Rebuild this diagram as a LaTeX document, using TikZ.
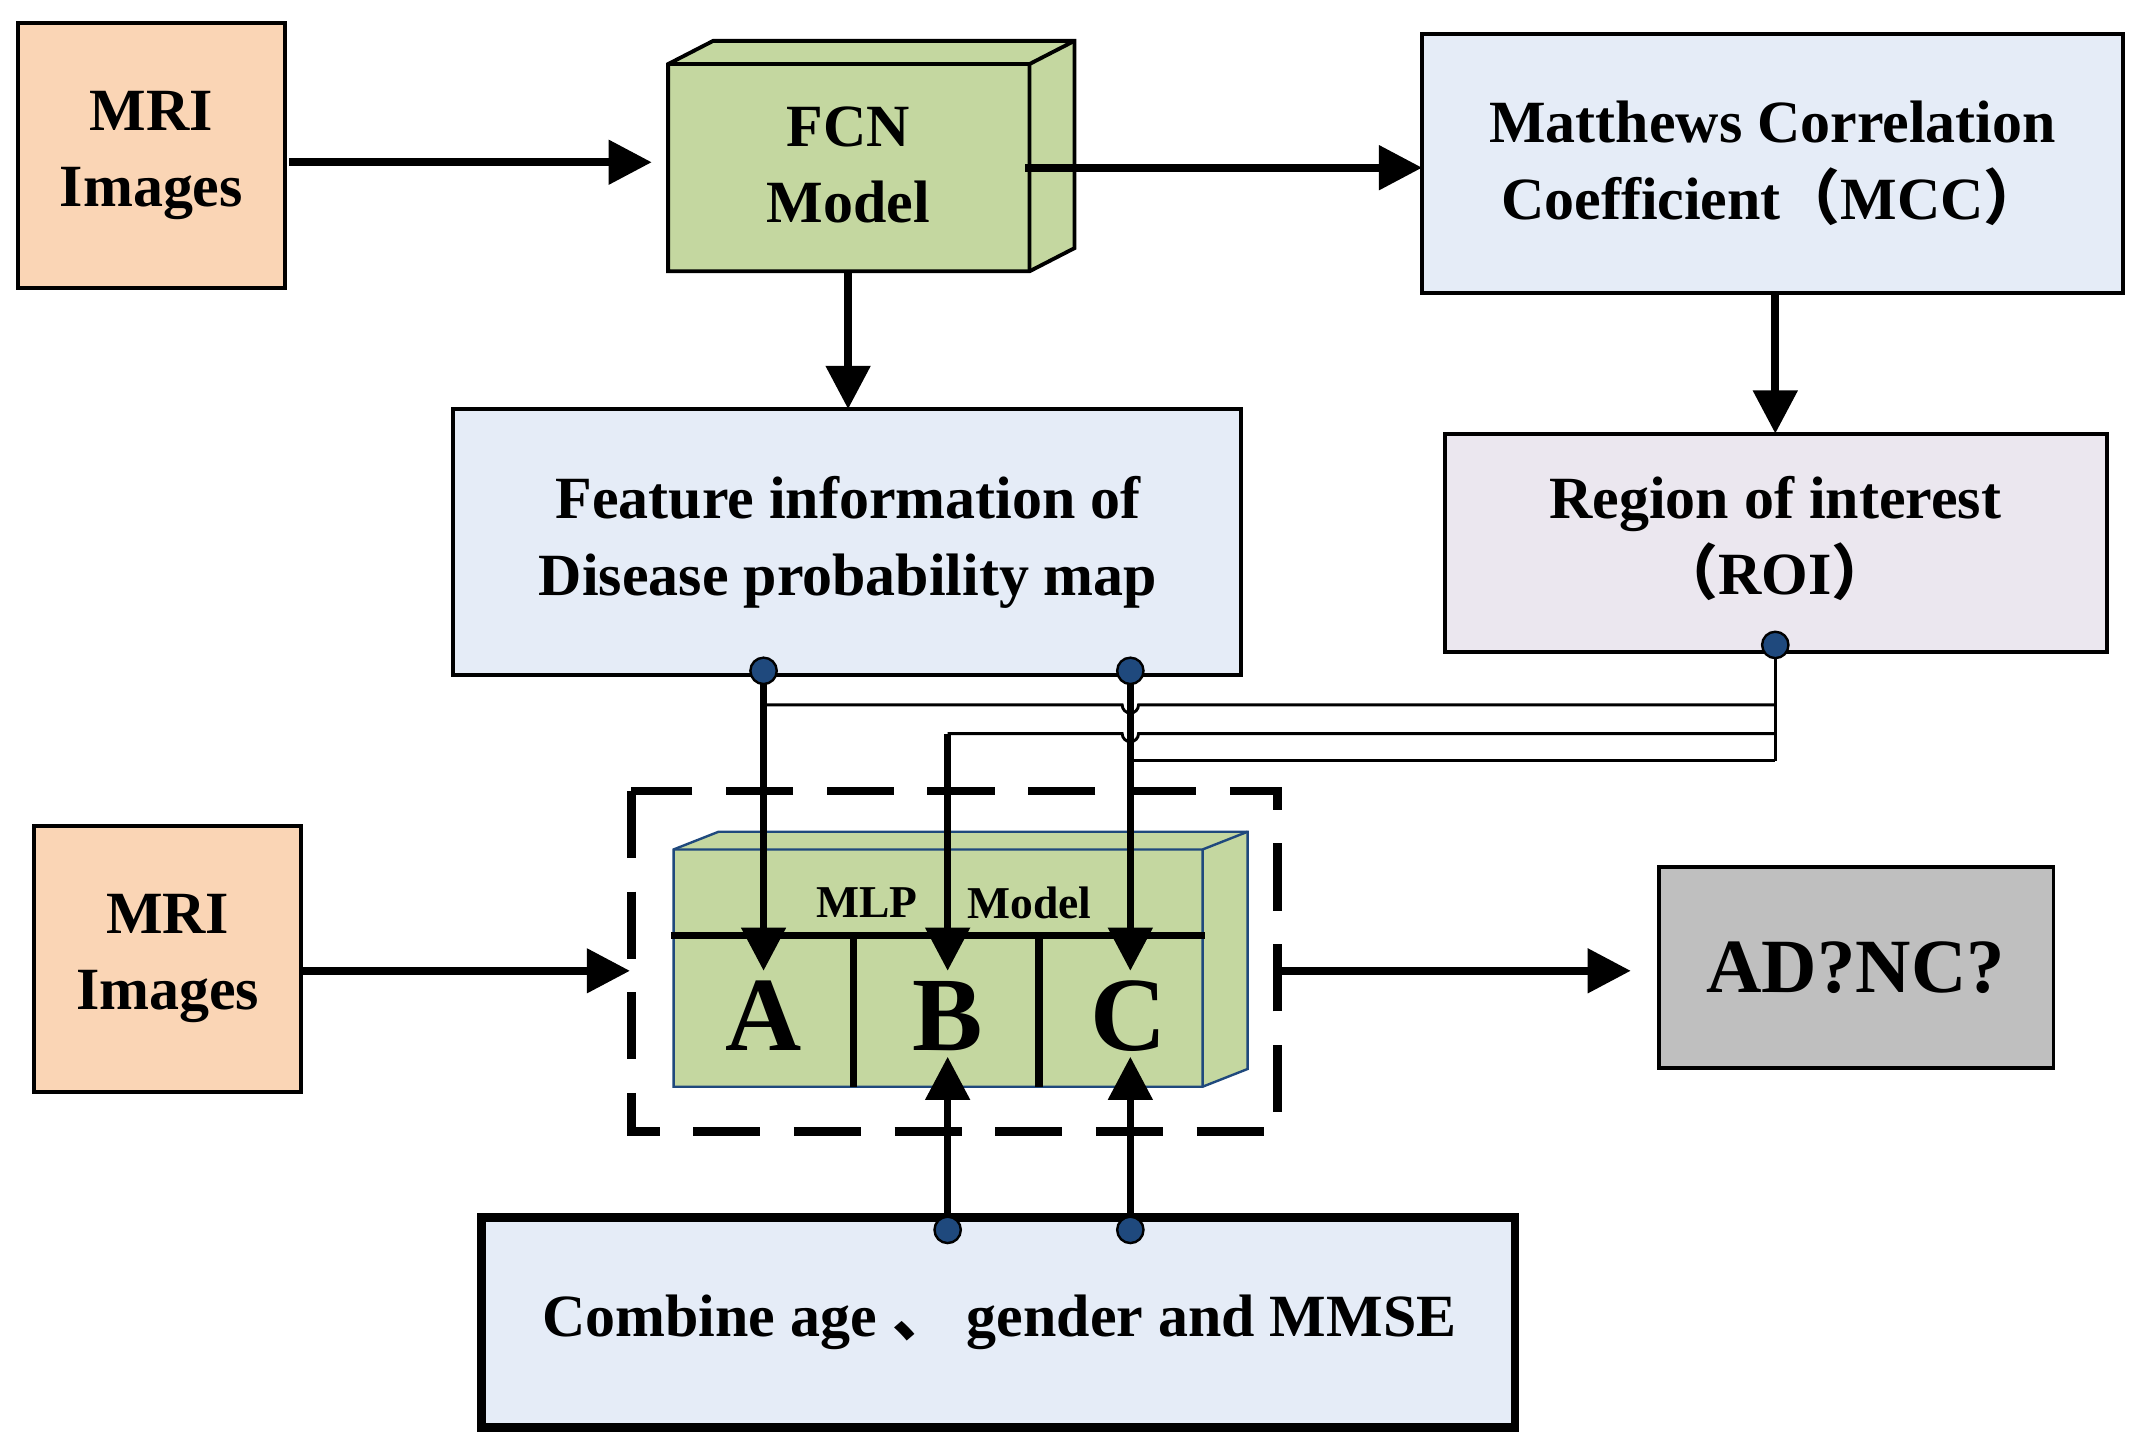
\documentclass[tikz,border=0pt]{standalone}
\usepackage{fontspec}
\setmainfont{Liberation Serif}
\newfontfamily\cjk{Noto Sans CJK SC}
\usetikzlibrary{arrows.meta}
\definecolor{peach}{HTML}{FAD5B5}
\definecolor{grn}{HTML}{C4D7A0}
\definecolor{lblue}{HTML}{E5ECF7}
\definecolor{lgray}{HTML}{EBE7EF}
\definecolor{dgray}{HTML}{BFBFBF}
\definecolor{dotc}{HTML}{1F497D}
\begin{document}
\begin{tikzpicture}[x=0.01cm,y=-0.01cm,
  box/.style={draw,line width=0.8pt},
  txt/.style={font=\fontsize{12.5}{16}\selectfont\bfseries,align=center},
  arr/.style={line width=1.6pt,-{Triangle[length=9pt,width=9pt]}},
  thin/.style={line width=0.6pt},
  dot/.style={circle,fill=dotc,draw=black,line width=0.5pt,inner sep=0pt,minimum size=5.5pt}]
\useasboundingbox (0,0) rectangle (1568,1067);
% MRI 1
\draw[box,fill=peach] (13,17) rectangle (209,211);
\node[txt] (mri1) at (111,114) {MRI\\Images};
% FCN 3D
\draw[box,fill=grn] (490,47) -- (523,30) -- (788,30) -- (788,182) -- (755,199) -- (490,199) -- cycle;
\draw[box] (490,47) -- (755,47) -- (788,30) (755,47) -- (755,199);
\node[txt] (fcn) at (622,121) {FCN\\Model};
% MCC
\draw[box,fill=lblue] (1043,25) rectangle (1557,215);
\node[txt] (mcc) at (1300,120) {Matthews Correlation\\Coefficient{\cjk （}MCC{\cjk ）}};
% Feature
\draw[box,fill=lblue] (332,300) rectangle (910,495);
\node[txt] (feat) at (622,398) {Feature information of\\Disease probability map};
% ROI
\draw[box,fill=lgray] (1060,318) rectangle (1545,478);
\node[txt] (roi) at (1302,395) {Region of interest\\{\cjk （}ROI{\cjk ）}};
% MRI 2
\draw[box,fill=peach] (25,606) rectangle (221,801);
\node[txt] (mri2) at (123,703) {MRI\\Images};
% dashed
\draw[line width=1.8pt,dash pattern=on 14pt off 7pt] (463,580) rectangle (937,830);
% MLP 3D
\draw[draw=dotc,line width=0.5pt,fill=grn] (494,623) -- (527,610) -- (915,610) -- (915,784) -- (882,797) -- (494,797) -- cycle;
\draw[draw=dotc,line width=0.5pt] (494,623) -- (882,623) -- (915,610) (882,623) -- (882,797);
\draw[line width=1.6pt] (492,686) -- (884,686) (626,686) -- (626,797) (762,686) -- (762,797);
\node[font=\fontsize{9.5}{11}\selectfont\bfseries] (mlp) at (636,662) {MLP};
\node[font=\fontsize{9.5}{11}\selectfont\bfseries] (mdl) at (755,662) {Model};
\node[font=\fontsize{22}{24}\selectfont\bfseries] (A) at (560,745) {A};
\node[font=\fontsize{22}{24}\selectfont\bfseries] (B) at (695,745) {B};
\node[font=\fontsize{22}{24}\selectfont\bfseries] (C) at (828,745) {C};
% AD NC
\draw[box,fill=dgray] (1217,636) rectangle (1506,783);
\node[font=\fontsize{16}{18}\selectfont\bfseries] (ad) at (1361,710) {AD?NC?};
% Combine
\draw[line width=1.8pt,fill=lblue] (353,893) rectangle (1111,1047);
\node[txt] (comb) at (733,970) {Combine age {\cjk 、} gender and MMSE};
% main arrows
\draw[arr] (212,119) -- (478,119);
\draw[arr] (752,123) -- (1043,123);
\draw[arr] (622,199) -- (622,300);
\draw[arr] (1302,215) -- (1302,318);
\draw[arr] (221,712) -- (462,712);
\draw[arr] (937,712) -- (1196,712);
% thin wiring
\draw[thin] (1302,473) -- (1302,558);
\draw[thin] (560,517) -- (823,517) arc (180:0:6) -- (1302,517);
\draw[thin] (695,538) -- (823,538) arc (180:0:6) -- (1302,538);
\draw[thin] (829,558) -- (1302,558);
% down arrows
\draw[arr] (560,492) -- (560,712);
\draw[arr] (695,538) -- (695,712);
\draw[arr] (829,492) -- (829,712);
% up arrows
\draw[arr] (695,902) -- (695,775);
\draw[arr] (829,902) -- (829,775);
% dots
\node[dot] (d1) at (560,492) {};
\node[dot] (d2) at (829,492) {};
\node[dot] (d3) at (1302,473) {};
\node[dot] (d4) at (695,902) {};
\node[dot] (d5) at (829,902) {};
\end{tikzpicture}
\end{document}
